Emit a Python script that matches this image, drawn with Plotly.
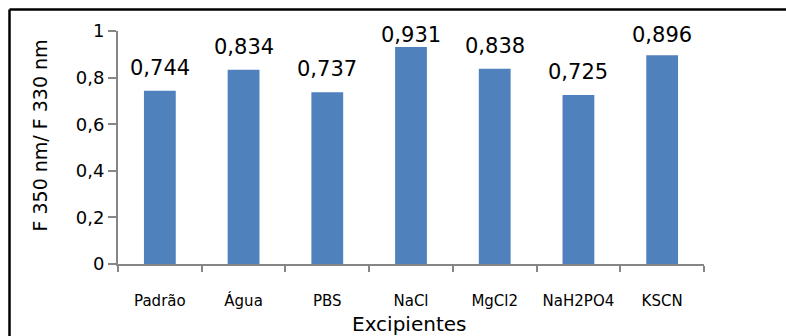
import plotly.graph_objects as go

categories = ["Padrão", "Água", "PBS", "NaCl", "MgCl2", "NaH2PO4", "KSCN"]
values = [0.744, 0.834, 0.737, 0.931, 0.838, 0.725, 0.896]
y_tick_vals = [0, 0.2, 0.4, 0.6, 0.8, 1.0]
y_tick_text = ["0", "0,2", "0,4", "0,6", "0,8", "1"]
labels = [f"{v:.3f}".replace(".", ",") for v in values]

FONT = "DejaVu Sans"
W, H = 786, 336
L, R, T, B = 118, 82, 31, 72
pw, ph = W - L - R, H - T - B

fig = go.Figure()
fig.add_trace(go.Bar(x=categories, y=values, marker=dict(color="#4F81BD", line=dict(width=0)),
                     width=0.38, hoverinfo="x+y"))

# data labels: centred ~23px above the bar, but kept inside the chart area
LABEL_GAP, LABEL_MIN_CENTER = 23, 35
for c, v, t in zip(categories, values, labels):
    bar_top_px = T + (1 - v) * ph
    shift = min(LABEL_GAP, bar_top_px - LABEL_MIN_CENTER)
    fig.add_annotation(x=c, y=v, text=t, showarrow=False, yanchor="middle", yshift=shift,
                       font=dict(family=FONT, size=21, color="black"))

# axis titles
fig.add_annotation(xref="paper", yref="paper", x=(409 - L) / pw, y=-(324 - (H - B)) / ph,
                   text="Excipientes", showarrow=False, xanchor="center", yanchor="middle",
                   font=dict(family=FONT, size=20, color="black"))
fig.add_annotation(xref="paper", yref="paper", x=(39.5 - L) / pw, y=((H - B) - 136) / ph,
                   text="F 350 nm/ F 330 nm", showarrow=False, textangle=-90,
                   xanchor="center", yanchor="middle",
                   font=dict(family=FONT, size=19, color="black"))

# chart frame (left and top border)
bx = (9.5 - L) / pw
by = 1 + (T - 9.5) / ph
fig.add_shape(type="line", xref="paper", yref="paper", x0=bx, x1=2, y0=by, y1=by,
              line=dict(color="black", width=2.5))
fig.add_shape(type="line", xref="paper", yref="paper", x0=bx, x1=bx, y0=by, y1=-1,
              line=dict(color="black", width=2.5))

fig.update_layout(
    width=W, height=H, margin=dict(l=L, r=R, t=T, b=B, autoexpand=False),
    paper_bgcolor="white", plot_bgcolor="white", showlegend=False,
    font=dict(family=FONT, color="black"),
    xaxis=dict(showline=True, linecolor="#868686", linewidth=2, ticks="outside",
               tickcolor="#868686", ticklen=6, tickwidth=1.5, tickson="boundaries",
               tickfont=dict(family=FONT, size=15, color="black"), ticklabelstandoff=22,
               showgrid=False, automargin=False),
    yaxis=dict(range=[0, 1], tickvals=y_tick_vals, ticktext=y_tick_text, showline=True,
               linecolor="#868686", linewidth=2, ticks="outside", tickcolor="#868686", ticklen=8,
               tickwidth=1.5, tickfont=dict(family=FONT, size=18, color="black"), showgrid=False,
               zeroline=False, automargin=False),
)

fig.write_html("out.html", config={"displayModeBar": False},
               post_script="document.body.style.margin='0';document.body.style.overflow='hidden';")
